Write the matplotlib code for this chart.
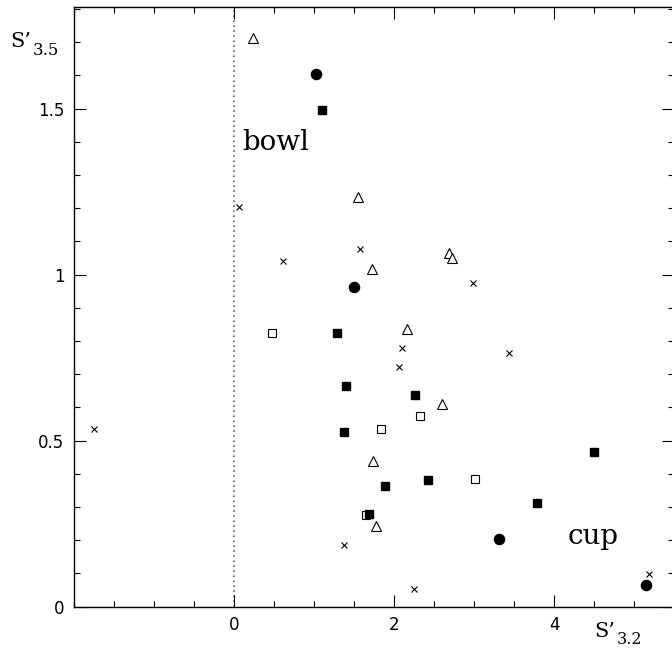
import matplotlib
matplotlib.use("Agg")
import matplotlib.pyplot as plt
from matplotlib.ticker import MultipleLocator, FuncFormatter

# ---- data (S'_3.2, S'_3.5) ----
tri_x = [0.24, 1.55, 1.73, 2.69, 2.72, 2.16, 2.60, 1.74, 1.78]
tri_y = [1.712, 1.235, 1.016, 1.064, 1.050, 0.836, 0.610, 0.439, 0.243]

circ_x = [1.03, 1.50, 3.31, 5.15]
circ_y = [1.604, 0.964, 0.205, 0.064]

cross_x = [0.06, 0.61, 1.58, 2.99, -1.75, 2.10, 2.06, 3.44, 1.375, 2.25, 5.19]
cross_y = [1.205, 1.042, 1.077, 0.975, 0.535, 0.778, 0.721, 0.765, 0.186, 0.053, 0.098]

fsq_x = [1.105, 1.29, 1.40, 2.26, 1.375, 1.89, 2.43, 1.69, 3.79, 4.50]
fsq_y = [1.496, 0.823, 0.664, 0.637, 0.525, 0.364, 0.382, 0.279, 0.311, 0.465]

osq_x = [0.47, 2.32, 1.84, 3.01, 1.65]
osq_y = [0.823, 0.575, 0.535, 0.384, 0.277]

x_ticks = [0, 2, 4]
y_ticks = [0, 0.5, 1, 1.5]

fig = plt.figure(figsize=(6.72, 6.48), dpi=100)
ax = fig.add_axes([74/672, 1-606.7/648, (674-74)/672, (606.7-7.3)/648])
ax.set_xlim(-2.0, 5.5)
ax.set_ylim(0, 1.805)

ax.axvline(0, color='#666666', lw=1.2, linestyle=(0, (1, 2)), zorder=1)

ax.plot(tri_x, tri_y, ls='none', marker='^', ms=6.5, mfc='white', mec='black', mew=0.8, zorder=3)
ax.plot(circ_x, circ_y, ls='none', marker='o', ms=7.3, mfc='black', mec='black', zorder=3)
ax.plot(cross_x, cross_y, ls='none', marker='x', ms=5, mec='black', mew=0.8, zorder=3)
ax.plot(osq_x, osq_y, ls='none', marker='s', ms=5.2, mfc='white', mec='black', mew=0.8, zorder=3)
ax.plot(fsq_x, fsq_y, ls='none', marker='s', ms=5.8, mfc='black', mec='black', zorder=4)

ax.text(0.10, 1.375, "bowl", family='DejaVu Serif', fontsize=20, va='baseline', ha='left')
ax.text(4.17, 0.19, "cup", family='DejaVu Serif', fontsize=20, va='baseline', ha='left')

ax.xaxis.set_major_locator(plt.FixedLocator(x_ticks))
ax.xaxis.set_minor_locator(MultipleLocator(0.5))
ax.yaxis.set_major_locator(plt.FixedLocator(y_ticks))
ax.yaxis.set_minor_locator(MultipleLocator(0.1))
fmt = FuncFormatter(lambda v, p: "%g" % v)
ax.xaxis.set_major_formatter(fmt)
ax.yaxis.set_major_formatter(fmt)
ax.tick_params(which='both', direction='in', top=True, right=True, width=0.8, color='black')
ax.tick_params(which='major', length=8.6, labelsize=12, pad=7)
ax.tick_params(which='minor', length=4.3)
for s in ax.spines.values():
    s.set_linewidth(1.0)

# axis labels
fig.text(10/672, 1-47/648, "S\u2019", family='DejaVu Serif', fontsize=15, va='baseline', ha='left')
fig.text(33/672, 1-55/648, "3.5", family='DejaVu Serif', fontsize=12, va='baseline', ha='left')
fig.text(594/672, 1-637/648, "S\u2019", family='DejaVu Serif', fontsize=15, va='baseline', ha='left')
fig.text(617/672, 1-644/648, "3.2", family='DejaVu Serif', fontsize=11.5, va='baseline', ha='left')

fig.savefig("out.png", dpi=100)
